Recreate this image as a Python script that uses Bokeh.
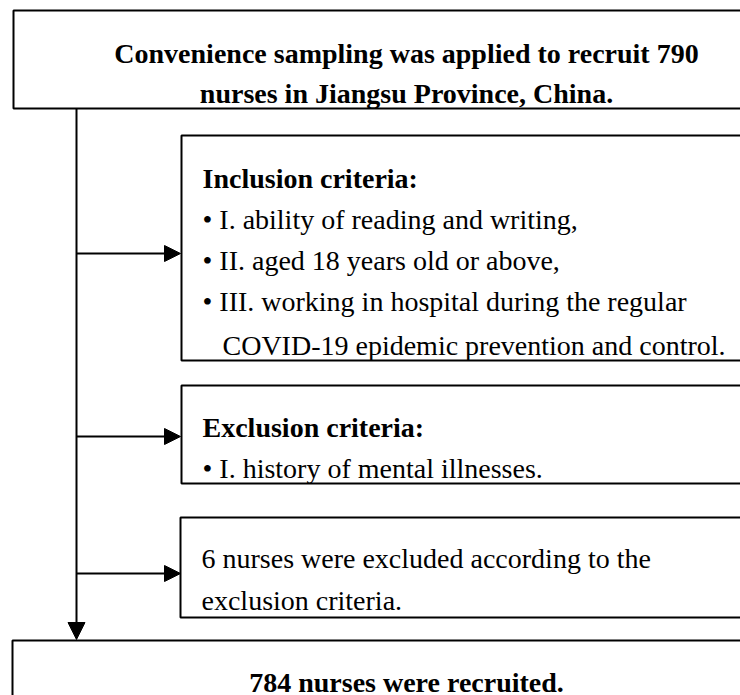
from bokeh.plotting import figure
from bokeh.models import Range1d, Arrow, NormalHead, ColumnDataSource
from bokeh.core.properties import value
from bokeh.embed import file_html
from bokeh.resources import INLINE

# ---- content ----
title_lines = ["Convenience sampling was applied to recruit 790",
               "nurses in Jiangsu Province, China."]
incl_head = "Inclusion criteria:"
incl_items = ["\u2022 I. ability of reading and writing,",
              "\u2022 II. aged 18 years old or above,",
              "\u2022 III. working in hospital during the regular",
              "   COVID-19 epidemic prevention and control."]
excl_head = "Exclusion criteria:"
excl_items = ["\u2022 I. history of mental illnesses."]
excluded_lines = ["6 nurses were excluded according to the",
                  "exclusion criteria."]
final_line = "784 nurses were recruited."

W, H = 740, 695
p = figure(width=W, height=H, output_backend="svg", toolbar_location=None,
           x_range=Range1d(0, W), y_range=Range1d(H, 0),
           min_border=0, outline_line_color=None)
p.axis.visible = False
p.grid.visible = False
p.background_fill_color = "white"
p.border_fill_color = "white"

FONT = value("Liberation Serif")
FS = "28px"

# boxes: left, right, top, bottom (page coordinates)
boxes = dict(left=[13, 181, 181, 180, 12],
             right=[770, 770, 770, 770, 770],
             top=[10, 135, 385, 517, 640],
             bottom=[108, 360, 483, 617, 720])
p.quad(source=ColumnDataSource(boxes), left="left", right="right", top="top",
       bottom="bottom", fill_color="white", line_color="black", line_width=2)

# connectors
trunk_x = 76
p.add_layout(Arrow(x_start=trunk_x, y_start=108, x_end=trunk_x, y_end=639,
                   line_width=2, line_color="black",
                   end=NormalHead(size=17, fill_color="black", line_color="black", line_width=1)))
for yy in [253, 436, 573]:
    p.add_layout(Arrow(x_start=trunk_x, y_start=yy, x_end=180, y_end=yy,
                       line_width=2, line_color="black",
                       end=NormalHead(size=16, fill_color="black", line_color="black", line_width=1)))

# texts
def txt(x, y, s, bold=False, align="left"):
    p.text(x=[x], y=[y], text=[s], text_font=FONT, text_font_size=FS,
           text_font_style="bold" if bold else "normal", text_color="black",
           text_align=align, text_baseline="alphabetic")

txt(406, 53, title_lines[0], bold=True, align="center")
txt(406, 93, title_lines[1], bold=True, align="center")

txt(202, 178, incl_head, bold=True)
for s, yy in zip(incl_items, [219, 260, 301, 345]):
    if s.startswith("   "):
        txt(222, yy, s.strip())
    else:
        txt(202, yy, s)

txt(202, 427, excl_head, bold=True)
txt(202, 468, excl_items[0])

txt(201, 558, excluded_lines[0])
txt(201, 600, excluded_lines[1])

txt(406, 682, final_line, bold=True, align="center")

open("out.html", "w").write(file_html(p, INLINE))
